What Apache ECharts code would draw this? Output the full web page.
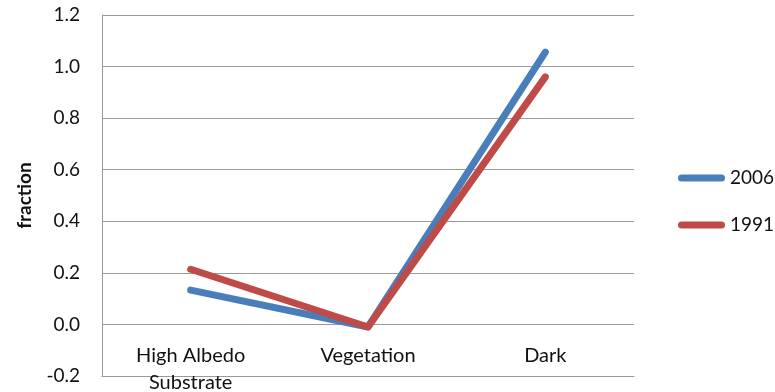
<!DOCTYPE html>
<html>
<head>
<meta charset="utf-8">
<script src="https://cdn.jsdelivr.net/npm/echarts@6/dist/echarts.min.js"></script>
<style>
  html, body { margin: 0; padding: 0; background: #fff; }
  #chart { width: 775px; height: 392px; }
</style>
</head>
<body>
<div id="chart"></div>
<script>
// Endmember fractions per class, two acquisition years
const categories = ['High Albedo\nSubstrate', 'Vegetation', 'Dark'];
const series2006 = [0.133, -0.01, 1.056];
const series1991 = [0.214, -0.01, 0.960];
const yTicks = { min: -0.2, max: 1.2, step: 0.2 };

const FONT = 'Lato, "Open Sans", sans-serif';
const GRID_COLOR = '#9a9a9a';
const legendIcon = 'path://M3.5,0 H43.5 A3.5,3.5 0 0 1 43.5,7 H3.5 A3.5,3.5 0 0 1 3.5,0 Z';

const chart = echarts.init(document.getElementById('chart'), null, { renderer: 'canvas' });

chart.setOption({
  animation: false,
  backgroundColor: '#ffffff',
  grid: {
    left: 102, right: 141, top: 15, bottom: 16,
    containLabel: false,
    outerBoundsMode: 'none'
  },
  legend: {
    orient: 'vertical',
    left: 673,
    top: 163,
    itemWidth: 47,
    itemHeight: 7,
    itemGap: 27,
    icon: legendIcon,
    textStyle: { fontFamily: FONT, fontSize: 19, color: '#111', lineHeight: 20 },
    data: ['2006', '1991']
  },
  xAxis: {
    type: 'category',
    data: categories,
    boundaryGap: true,
    // category names sit just under the zero line, above the -0.2 row
    axisLine: { onZero: false, lineStyle: { color: GRID_COLOR, width: 1 } },
    axisTick: { show: false },
    axisLabel: {
      show: true,
      fontFamily: FONT, fontSize: 20, color: '#111',
      margin: -34, lineHeight: 27, interval: 0, hideOverlap: false
    },
    splitLine: { show: false }
  },
  yAxis: {
    type: 'value',
    min: yTicks.min,
    max: yTicks.max,
    interval: yTicks.step,
    name: 'fraction',
    nameLocation: 'middle',
    nameGap: 68,
    nameRotate: 90,
    nameTextStyle: { fontFamily: FONT, fontSize: 19, fontWeight: 'bold', color: '#111' },
    axisLine: { show: true, lineStyle: { color: GRID_COLOR, width: 1 } },
    axisTick: { show: false },
    axisLabel: {
      fontFamily: FONT, fontSize: 19, color: '#111', margin: 22,
      formatter: v => v.toFixed(1)
    },
    splitLine: { show: true, lineStyle: { color: GRID_COLOR, width: 1 } }
  },
  series: [
    {
      name: '2006',
      type: 'line',
      data: series2006,
      symbol: 'none',
      itemStyle: { color: '#4a7ebb' },
      lineStyle: { color: '#4a7ebb', width: 7, cap: 'round', join: 'round' }
    },
    {
      name: '1991',
      type: 'line',
      data: series1991,
      symbol: 'none',
      itemStyle: { color: '#be4b48' },
      lineStyle: { color: '#be4b48', width: 7, cap: 'round', join: 'round' }
    }
  ]
});
</script>
</body>
</html>
